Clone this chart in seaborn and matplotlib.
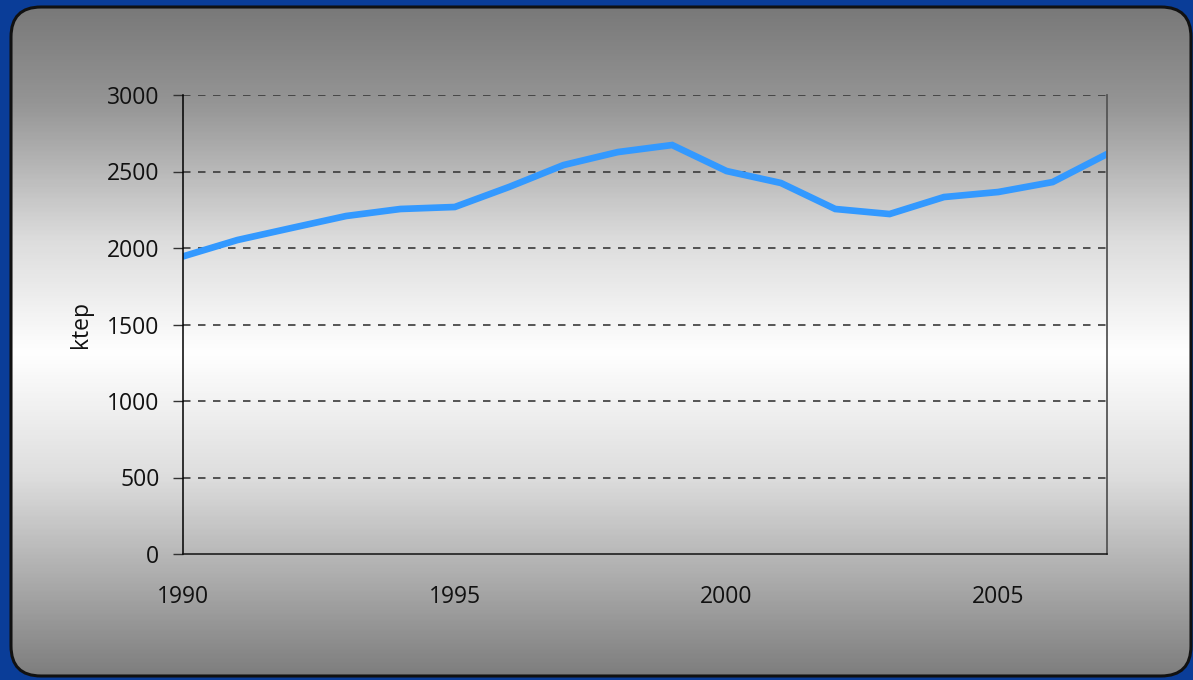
import numpy as np
import pandas as pd
import matplotlib
matplotlib.use("Agg")
import matplotlib.pyplot as plt
from matplotlib.patches import FancyBboxPatch
from matplotlib.colors import LinearSegmentedColormap
import seaborn as sns

years = list(range(1990, 2008))
ktep = [1945, 2052, 2131, 2209, 2255, 2268, 2399, 2542, 2627, 2673,
        2503, 2425, 2255, 2222, 2333, 2366, 2431, 2614]
y_ticks = [0, 500, 1000, 1500, 2000, 2500, 3000]
x_labels = [1990, 1995, 2000, 2005]

df = pd.DataFrame({"year": years, "ktep": ktep})

sns.set_style("white")
plt.rcParams["font.family"] = ["Open Sans", "DejaVu Sans"]

W, H = 1193, 680
fig = plt.figure(figsize=(W / 100, H / 100), dpi=100)
fig.patch.set_facecolor("#0a3d98")

# background panel: rounded box filled with a vertical grey gradient
bg = fig.add_axes([0, 0, 1, 1])
bg.axis("off")
stops = [(0.0, "#777777"), (0.15, "#959595"), (0.35, "#dcdcdc"),
         (0.52, "#ffffff"), (0.7, "#dedede"), (1.0, "#7c7c7c")]
cmap = LinearSegmentedColormap.from_list("panel", stops)
grad = np.linspace(0, 1, 400).reshape(-1, 1)
im = bg.imshow(grad, cmap=cmap, aspect="auto", origin="upper",
               extent=(0, W + 20, 0, H), zorder=1)
panel = FancyBboxPatch((11, 4), 1180, 669,
                       boxstyle="round,pad=0,rounding_size=30",
                       facecolor="none", edgecolor="#111111", linewidth=2.2,
                       zorder=2, clip_on=False)
bg.add_patch(panel)
im.set_clip_path(panel)
bg.set_xlim(0, W)
bg.set_ylim(0, H)

ax = fig.add_axes([183 / W, 1 - 554 / H, (1107 - 183) / W, (554 - 95) / H])
ax.patch.set_alpha(0)

sns.lineplot(data=df, x="year", y="ktep", ax=ax, color="#3399ff",
             linewidth=4.8, solid_joinstyle="miter", zorder=3)

fs = 16.5
ax.set_xlim(1990, 2007)
ax.set_ylim(0, 3000)
ax.set_yticks(y_ticks)
ax.set_yticklabels([str(v) for v in y_ticks], fontsize=fs, color="#111111")
ax.set_xticks(years)
ax.set_xticklabels([str(y) if y in x_labels else "" for y in years],
                   fontsize=fs, color="#111111")
ax.tick_params(axis="x", direction="inout", length=12, width=1,
               color="#333333", pad=16)
ax.tick_params(axis="y", direction="out", length=7, width=1,
               color="#333333", pad=10, left=True)
ax.set_xlabel("")
ax.set_ylabel("ktep", fontsize=fs, color="#111111", labelpad=10)

for v in y_ticks[1:]:
    ax.axhline(v, color="#3a3a3a", linewidth=1.2, linestyle=(0, (4.5, 4.5)),
               zorder=1)
ax.grid(False)

ax.spines["left"].set_color("#000000")
ax.spines["left"].set_linewidth(1.1)
ax.spines["bottom"].set_color("#111111")
ax.spines["bottom"].set_linewidth(1.1)
ax.spines["top"].set_visible(False)
ax.spines["right"].set_color("#555555")
ax.spines["right"].set_linewidth(1.3)
for s in ax.spines.values():
    s.set_zorder(4)

fig.savefig("out.png", dpi=100, facecolor=fig.get_facecolor())
